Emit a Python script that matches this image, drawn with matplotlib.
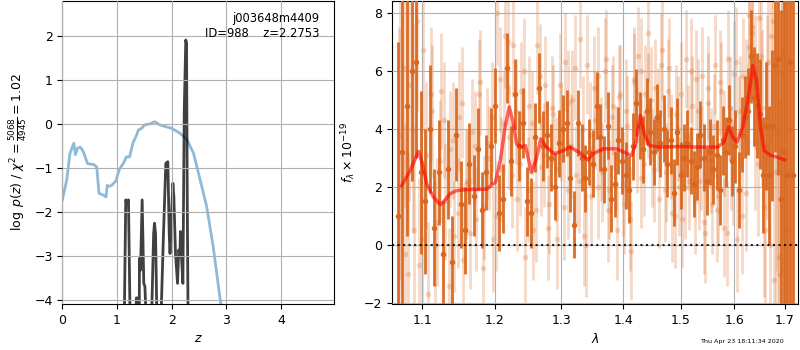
import numpy as np
import matplotlib
matplotlib.use("Agg")
import matplotlib.pyplot as plt
from matplotlib.ticker import FixedLocator, NullLocator, FixedFormatter

# ---------------- left panel data ----------------
z_chi = [0.00, 0.08, 0.14, 0.21, 0.24, 0.28, 0.33, 0.38, 0.46, 0.52, 0.57, 0.63,
         0.67, 0.71, 0.75, 0.80, 0.82, 0.86, 0.90, 0.98, 1.04, 1.12, 1.17, 1.23,
         1.29, 1.36, 1.39, 1.45, 1.51, 1.60, 1.69, 1.78, 1.91, 2.00, 2.15, 2.28,
         2.40, 2.52, 2.64, 2.76, 2.89, 2.98, 3.20, 3.50, 4.00, 4.95]
logp_chi = [-1.73, -1.28, -0.67, -0.44, -0.70, -0.55, -0.53, -0.62, -0.90, -0.92, -0.92, -0.98,
            -1.58, -1.60, -1.62, -1.66, -1.40, -1.42, -1.40, -1.30, -1.04, -0.89, -0.75, -0.75,
            -0.44, -0.25, -0.14, -0.10, -0.02, 0.00, 0.05, -0.02, -0.07, -0.10, -0.21, -0.36,
            -0.67, -1.27, -1.88, -2.80, -4.02, -4.85, -7.0, -10.5, -18.0, -35.0]

z_pz = [1.00, 1.120, 1.136, 1.160, 1.185, 1.210, 1.240, 1.300, 1.345, 1.355, 1.370, 1.380,
        1.395, 1.410, 1.430, 1.460, 1.490, 1.510, 1.530, 1.600, 1.637, 1.670, 1.686, 1.705,
        1.728, 1.790, 1.810, 1.850, 1.893, 1.930, 1.955, 1.970, 2.022, 2.040, 2.070, 2.107,
        2.130, 2.150, 2.160, 2.180, 2.205, 2.230, 2.258, 2.272, 2.285, 2.300, 2.400, 3.00, 4.95]
logp_pz = [-12.0, -12.0, -4.2, -1.73, -1.80, -1.73, -4.5, -12.0, -4.3, -3.96, -3.96, -4.3,
           -12.0, -3.06, -3.33, -1.73, -3.63, -3.70, -4.3, -12.0, -4.2, -2.50, -2.26, -2.50,
           -4.3, -12.0, -4.2, -2.50, -0.90, -0.86, -2.50, -2.95, -1.35, -1.66, -2.95, -3.63,
           -2.87, -3.02, -2.45, -3.02, -3.63, 0.30, 1.91, 1.83, -1.73, -4.5, -12.0, -12.0, -12.0]

# ---------------- right panel data ----------------
lam_dark = [1.068, 1.074, 1.080, 1.086, 1.092, 1.098, 1.104, 1.110, 1.116, 1.122, 1.128, 1.134,
            1.140, 1.146, 1.152, 1.158, 1.164, 1.170, 1.176, 1.182, 1.188, 1.194, 1.200, 1.206,
            1.212, 1.218, 1.224, 1.230, 1.236, 1.242, 1.248, 1.254, 1.260, 1.266, 1.272, 1.278,
            1.284, 1.290, 1.296, 1.302, 1.308, 1.314, 1.320, 1.326, 1.332, 1.338, 1.344, 1.350,
            1.356, 1.362, 1.368, 1.374, 1.380, 1.386, 1.392, 1.398, 1.404, 1.410, 1.416, 1.422,
            1.428, 1.434, 1.440, 1.446, 1.452, 1.458, 1.464, 1.470, 1.476, 1.482, 1.488, 1.494,
            1.500, 1.506, 1.512, 1.518, 1.524, 1.530, 1.536, 1.542, 1.548, 1.554, 1.560, 1.566,
            1.572, 1.578, 1.584, 1.590, 1.596, 1.602, 1.608, 1.614, 1.620, 1.626, 1.632, 1.638,
            1.644, 1.650, 1.656, 1.662, 1.668, 1.674, 1.680, 1.686, 1.692, 1.698, 1.704, 1.710, 1.716]
flux_dark = [1.0, 3.2, 4.8, 6.0, 6.3, 2.5, 1.5, 4.0, 0.6, 2.5, -0.3, 2.6,
             -0.6, 3.8, 1.4, 0.5, 2.8, 1.7, 3.3, 1.2, 2.5, 3.4, 4.8, 1.1,
             1.6, 6.1, 2.9, 5.2, 3.4, 4.2, 1.5, 1.1, 3.7, 5.4, 3.4, 3.8,
             3.0, 2.0, 3.5, 4.0, 4.2, 2.3, 0.7, 4.2, 3.0, 2.3, 3.2, 2.8,
             4.8, 3.7, 2.6, 4.1, 1.6, 2.1, 3.6, 2.9, 2.4, 1.9, 3.4, 4.9,
             4.1, 3.3, 4.6, 3.9, 3.2, 4.4, 3.5, 4.0, 2.8, 3.6, 1.8, 3.9,
             2.4, 3.0, 3.5, 2.9, 2.1, 2.7, 3.8, 3.0, 2.2, 3.2, 2.6, 3.1,
             1.9, 3.6, 3.2, 4.3, 2.9, 3.4, 1.9, 3.8, 4.4, 4.6, 6.5, 5.1,
             4.8, 4.5, 2.4, 4.1, 2.4, 4.1, 6.2, 6.4, 1.6, 3.2, 2.4, 6.3, 2.4]
err_dark = [6.0, 5.5, 4.5, 3.8, 3.3, 2.8, 2.5, 2.2, 2.0, 1.8, 1.8, 1.7,
            1.6, 1.6, 1.5, 1.5, 1.4, 1.4, 1.4, 1.3, 1.3, 1.3, 1.3, 1.3,
            1.2, 1.2, 1.2, 1.2, 1.2, 1.2, 1.2, 1.2, 1.2, 1.2, 1.2, 1.15,
            1.15, 1.15, 1.15, 1.15, 1.15, 1.15, 1.15, 1.15, 1.15, 1.15, 1.15, 1.15,
            1.15, 1.15, 1.15, 1.15, 1.15, 1.15, 1.15, 1.15, 1.15, 1.15, 1.15, 1.15,
            1.15, 1.15, 1.15, 1.15, 1.15, 1.15, 1.15, 1.15, 1.15, 1.15, 1.15, 1.15,
            1.15, 1.15, 1.15, 1.15, 1.15, 1.15, 1.15, 1.15, 1.15, 1.15, 1.2, 1.2,
            1.2, 1.2, 1.2, 1.2, 1.2, 1.25, 1.3, 1.3, 1.4, 1.5, 1.6, 1.7,
            1.8, 1.9, 2.0, 2.2, 2.4, 2.6, 3.0, 4.0, 6.5, 8.0, 9.0, 9.5, 10.0]

lam_light = [1.071, 1.077, 1.083, 1.089, 1.095, 1.101, 1.107, 1.113, 1.119, 1.125, 1.131, 1.137,
             1.143, 1.149, 1.155, 1.161, 1.167, 1.173, 1.179, 1.185, 1.191, 1.197, 1.203, 1.209,
             1.215, 1.221, 1.227, 1.233, 1.239, 1.245, 1.251, 1.257, 1.263, 1.269, 1.275, 1.281,
             1.287, 1.293, 1.299, 1.305, 1.311, 1.317, 1.323, 1.329, 1.335, 1.341, 1.347, 1.353,
             1.359, 1.365, 1.371, 1.377, 1.383, 1.389, 1.395, 1.401, 1.407, 1.413, 1.419, 1.425,
             1.431, 1.437, 1.443, 1.449, 1.455, 1.461, 1.467, 1.473, 1.479, 1.485, 1.491, 1.497,
             1.503, 1.509, 1.515, 1.521, 1.527, 1.533, 1.539, 1.545, 1.551, 1.557, 1.563, 1.569,
             1.575, 1.581, 1.587, 1.593, 1.599, 1.605, 1.611, 1.617, 1.623, 1.629, 1.635, 1.641,
             1.647, 1.653, 1.659, 1.665, 1.671, 1.677, 1.683, 1.689, 1.695, 1.701]
flux_light = [3.8, -0.3, 5.5, 0.5, -0.7, 6.7, -1.7, 4.6, 0.8, 5.3, 1.5, 3.3,
              0.3, 4.4, -0.5, 2.2, 3.9, 0.9, 5.6, 1.3, 3.0, 0.2, 8.0, 2.6,
              7.2, 3.7, 6.9, 1.6, 5.3, -0.4, 4.8, 0.5, 6.9, 2.7, 5.5, 1.4,
              4.5, 0.2, 3.9, 6.3, 1.9, 5.0, 2.4, 7.1, 0.3, 6.2, 1.7, 4.3,
              5.8, 2.5, 6.4, 1.9, 4.8, 0.5, 5.2, 1.4, 4.1, -0.2, 5.6, 6.5,
              2.3, 5.2, 7.3, 3.0, 5.4, 1.6, 6.7, 2.5, 6.1, 1.1, 4.5, 2.0,
              0.9, 6.4, 2.2, 4.8, 5.7, 2.2, 5.8, 0.4, 4.9, 1.4, 6.2, 1.7,
              5.3, 0.6, 6.4, 3.0, 5.9, 0.2, 4.6, 5.8, 1.8, 7.9, 7.5, 3.5,
              7.8, 4.7, 0.5, 6.3, 7.2, -1.2, 3.9, -0.4, 6.7, 2.4]
err_light = [5.0, 4.5, 4.0, 3.5, 3.0, 2.8, 2.5, 2.3, 2.2, 2.0, 2.0, 2.0,
             1.9, 1.9, 1.9, 1.8, 1.8, 1.8, 1.8, 1.8, 1.8, 1.8, 1.8, 1.8,
             1.8, 1.8, 1.8, 1.8, 1.7, 1.7, 1.7, 1.7, 1.7, 1.7, 1.7, 1.7,
             1.7, 1.7, 1.7, 1.7, 1.7, 1.7, 1.7, 1.7, 1.7, 1.7, 1.7, 1.7,
             1.7, 1.7, 1.7, 1.7, 1.7, 1.7, 1.7, 1.7, 1.7, 1.7, 1.7, 1.7,
             1.7, 1.7, 1.7, 1.7, 1.7, 1.7, 1.7, 1.7, 1.7, 1.7, 1.7, 1.7,
             1.7, 1.7, 1.7, 1.7, 1.7, 1.7, 1.7, 1.7, 1.7, 1.7, 1.7, 1.7,
             1.7, 1.7, 1.7, 1.8, 1.8, 1.8, 1.9, 2.0, 2.0, 2.1, 2.2, 2.3,
             2.5, 2.7, 3.0, 3.3, 3.7, 4.2, 4.8, 5.5, 6.5, 7.5]

lam_light2 = [1.0695, 1.0755, 1.0815, 1.0875, 1.0935, 1.0995,
              1.1055, 1.1115, 1.1175, 1.1235, 1.1295, 1.1355, 1.1415, 1.1475, 1.1535, 1.1595,
              1.1655, 1.1715, 1.1775, 1.1835, 1.1895, 1.1955, 1.2015,
              1.2075, 1.2135, 1.2195, 1.2255, 1.2315, 1.2375, 1.2435, 1.2495,
              1.2555, 1.2615, 1.2675, 1.2735, 1.2795, 1.2855, 1.2915, 1.2975,
              1.3035, 1.3095, 1.3155, 1.3215, 1.3275, 1.3335, 1.3395, 1.3455,
              1.3515, 1.3575, 1.3635, 1.3695, 1.3755, 1.3815, 1.3875, 1.3935,
              1.3995, 1.4055, 1.4115, 1.4175, 1.4235, 1.4295, 1.4355, 1.4415,
              1.4475, 1.4535, 1.4595, 1.4655, 1.4715, 1.4775, 1.4835, 1.4895,
              1.4955, 1.5015, 1.5075, 1.5135, 1.5195, 1.5255, 1.5315, 1.5375,
              1.5435, 1.5495, 1.5555, 1.5615, 1.5675, 1.5735, 1.5795, 1.5855,
              1.5915, 1.5975, 1.6035, 1.6095, 1.6155, 1.6215, 1.6275, 1.6335,
              1.6395, 1.6455, 1.6515, 1.6575, 1.6635, 1.6695, 1.6755,
              1.6815, 1.6875, 1.6935, 1.6995, 1.7055, 1.7115]
flux_light2 = [2.0, 6.1, -1.0, 4.0, 7.7, 0.2,
               3.1, 5.2, 0.0, 2.9, 4.3, -1.4, 3.6, 1.1, 4.9, 2.1,
               0.4, 3.4, 5.2, -0.8, 3.5, 4.4, 1.0,
               5.7, 4.2, 7.0, 2.4, 4.6, 2.8, 6.0, 1.9,
               4.2, 1.2, 5.8, 3.1, 0.6, 4.7, 2.6, 5.5,
               1.3, 4.9, 3.4, 6.1, 2.2, 4.0, 0.0, 3.8,
               5.4, 2.0, 3.3, 6.0, 1.2, 4.4, 3.0, 5.1,
               2.1, 4.6, 0.9, 5.7, 3.6, 6.0, 2.8, 4.8,
               5.0, 2.6, 4.3, 6.2, 1.9, 5.3, 3.4, 1.0,
               4.0, 5.2, 2.0, 3.7, 6.0, 1.5, 4.6, 3.0,
               0.8, 5.4, 2.9, 4.1, 1.2, 5.6, 3.5, 0.4,
               4.7, 2.5, 6.3, 3.9, 1.0, 5.1, 6.8, 7.3,
               5.6, 2.8, 6.5, 1.3, 4.4, 0.0, 7.7,
               2.5, -1.0, 5.9, 3.0, 0.5, 4.0]
err_light2 = [5.5, 4.8, 4.2, 3.6, 3.1, 2.7,
              2.5, 2.3, 2.2, 2.1, 2.0, 2.0, 2.0, 1.9, 1.9, 1.9,
              1.9, 1.9, 1.9, 1.9, 1.9, 1.9, 1.9,
              1.8, 1.8, 1.8, 1.8, 1.8, 1.8, 1.8, 1.8,
              1.8, 1.8, 1.8, 1.8, 1.8, 1.8, 1.8, 1.8,
              1.8, 1.8, 1.8, 1.8, 1.8, 1.8, 1.8, 1.8,
              1.8, 1.8, 1.8, 1.8, 1.8, 1.8, 1.8, 1.8,
              1.8, 1.8, 1.8, 1.8, 1.8, 1.8, 1.8, 1.8,
              1.8, 1.8, 1.8, 1.8, 1.8, 1.8, 1.8, 1.8,
              1.8, 1.8, 1.8, 1.8, 1.8, 1.8, 1.8, 1.8,
              1.8, 1.8, 1.8, 1.8, 1.8, 1.8, 1.8, 1.8,
              1.8, 1.8, 1.9, 1.9, 2.0, 2.0, 2.1, 2.2,
              2.3, 2.5, 2.8, 3.1, 3.5, 4.0, 4.6,
              5.3, 6.0, 7.0, 8.0, 9.0, 10.0]

lam_model = [1.073, 1.084, 1.095, 1.099, 1.106, 1.115, 1.124, 1.130, 1.137, 1.146, 1.156,
             1.170, 1.188, 1.201, 1.208, 1.215, 1.221, 1.226, 1.232, 1.239, 1.245, 1.254,
             1.262, 1.268, 1.277, 1.289, 1.303, 1.313, 1.328, 1.342, 1.350, 1.367, 1.389,
             1.405, 1.414, 1.421, 1.429, 1.436, 1.445, 1.463, 1.500, 1.528, 1.568, 1.580,
             1.589, 1.597, 1.605, 1.616, 1.626, 1.636, 1.643, 1.651, 1.658, 1.672, 1.685, 1.699]
flux_model = [2.04, 2.56, 3.22, 2.90, 2.10, 1.64, 1.39, 1.53, 1.76, 1.87, 1.90,
              1.91, 1.92, 2.16, 2.91, 4.06, 4.75, 4.29, 3.48, 3.37, 3.42, 2.50,
              3.02, 3.65, 3.37, 3.14, 3.25, 3.37, 3.19, 2.93, 3.14, 3.31, 3.31,
              3.16, 3.08, 3.48, 4.46, 3.82, 3.42, 3.37, 3.39, 3.37, 3.37, 3.54,
              4.06, 3.71, 3.54, 4.06, 4.98, 6.18, 5.66, 4.06, 3.25, 3.08, 3.02, 2.93]

xtick_vals = [1.1, 1.2, 1.3, 1.4, 1.5, 1.6, 1.7]
xtick_labels = ['1.1', '1.2', '1.3', '1.4', '1.5', '1.6', '1.7']

title_text = 'j003648m4409\nID=988    z=2.2753'
date_text = 'Thu Apr 23 18:11:34 2020'

# ---------------- figure ----------------
plt.rcParams['font.size'] = 9
fig = plt.figure(figsize=(8, 3.5), dpi=100)
ax1 = fig.add_axes([0.0779, 0.1314, 0.339, 0.866])
ax2 = fig.add_axes([0.4896, 0.1314, 0.508, 0.866])

# Left panel
ax1.plot(z_chi, logp_chi, color='#1f77b4', alpha=0.5, lw=2)
ax1.plot(z_pz, logp_pz, color='k', alpha=0.75, lw=2)
ax1.set_xlim(0, 4.96)
ax1.set_ylim(-4.1, 2.8)
ax1.set_xticks([0, 1, 2, 3, 4])
ax1.set_yticks([-4, -3, -2, -1, 0, 1, 2])
ax1.grid(True)
ax1.set_axisbelow(False)
ax1.set_xlabel('$z$')
ax1.set_ylabel(r'$\log\;p(z)$ / $\chi^2=\frac{5068}{4945}=1.02$')
ax1.text(0.947, 0.965, title_text, ha='right', va='top', transform=ax1.transAxes,
         fontsize=8.3)

# Right panel
c_or = '#d9661c'
for lam_l, fl_l, er_l in [(lam_light, flux_light, err_light),
                          (lam_light2, flux_light2, err_light2)]:
    ax2.errorbar(lam_l, fl_l, yerr=er_l, fmt='o', color=c_or, alpha=0.25,
                 ms=4, elinewidth=2.0, mew=0, capsize=0, zorder=2)
ax2.errorbar(lam_dark, flux_dark, yerr=err_dark, fmt='o', color=c_or, alpha=0.95,
             ms=4, elinewidth=2.0, mew=0, capsize=0, zorder=3)
ax2.plot(lam_model, flux_model, color='r', alpha=0.6, lw=2.5, zorder=4)
ax2.axhline(0, color='k', linestyle=':', lw=1.5, alpha=0.85, zorder=5)
ax2.set_xscale('log')
ax2.set_xlim(1.0603, 1.7271)
ax2.set_ylim(-2.03, 8.4)
ax2.xaxis.set_major_locator(FixedLocator(xtick_vals))
ax2.xaxis.set_major_formatter(FixedFormatter(xtick_labels))
ax2.xaxis.set_minor_locator(NullLocator())
ax2.set_yticks([-2, 0, 2, 4, 6, 8])
ax2.grid(True)
ax2.set_axisbelow(False)
ax2.set_xlabel(r'$\lambda$')
ax2.set_ylabel(r'$f_\lambda\times10^{-19}$')

fig.text(0.98, 0.018, date_text, ha='right', va='bottom', fontsize=4.6)

fig.savefig('out.png', dpi=100)
